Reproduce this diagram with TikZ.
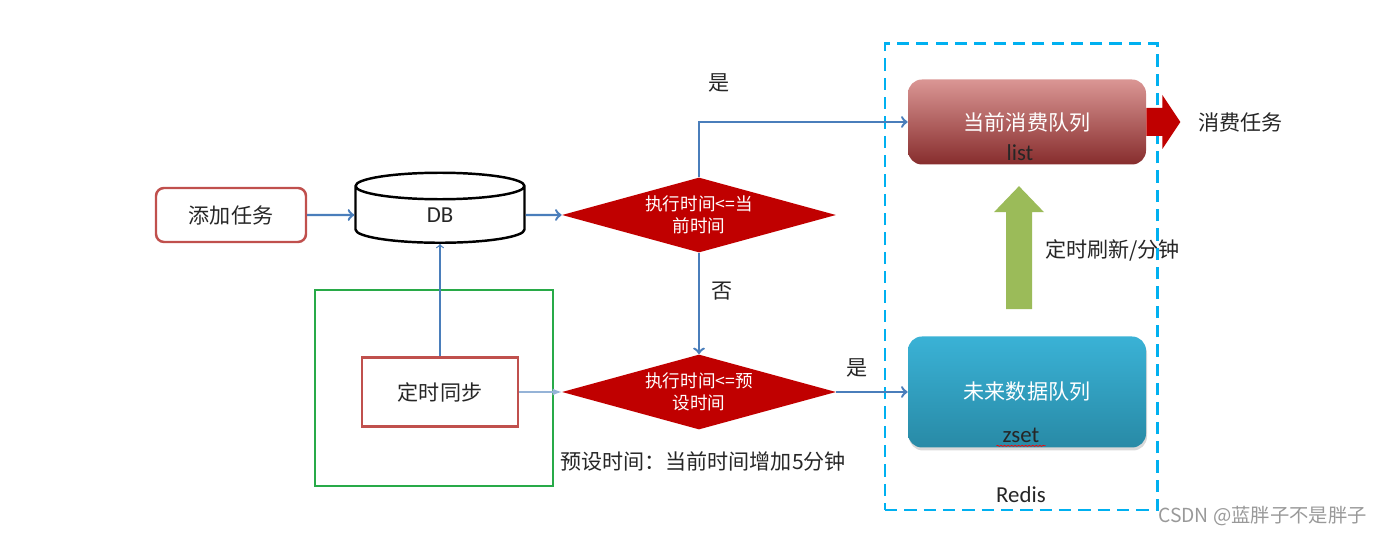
\documentclass[tikz,border=0pt]{standalone}
\usepackage{fontspec}
\setmainfont{Noto Sans CJK SC}
\newfontfamily\latinfont{Carlito}
\usetikzlibrary{shapes.geometric}
\usetikzlibrary{positioning}
\usetikzlibrary{calc}
\usetikzlibrary{shadows}
\usetikzlibrary{decorations.pathmorphing}
\definecolor{taskred}{RGB}{192,80,77}
\definecolor{flowblue}{RGB}{74,126,187}
\definecolor{lightflow}{RGB}{149,179,215}
\definecolor{decisionred}{RGB}{192,0,0}
\definecolor{groupgreen}{RGB}{40,170,72}
\definecolor{redisblue}{RGB}{0,176,240}
\definecolor{listtop}{RGB}{218,150,148}
\definecolor{listmid}{RGB}{192,80,77}
\definecolor{listbottom}{RGB}{135,45,45}
\definecolor{zsettop}{RGB}{58,178,214}
\definecolor{zsetbottom}{RGB}{40,138,166}
\definecolor{refreshgreen}{RGB}{155,187,89}
\definecolor{textgray}{RGB}{38,38,38}
\tikzset{zh/.style={font=\fontsize{12}{14}\selectfont, text=textgray},
  en/.style={font=\latinfont\fontsize{13}{15}\selectfont, text=textgray},
  flow/.style={-to, draw=flowblue, line width=1.4pt},
  decision/.style={diamond, aspect=3.66, inner sep=0pt, minimum width=5.48cm, minimum height=1.5cm, fill=decisionred, text=white, align=center, font=\fontsize{10}{12.5}\selectfont},
  queue/.style={rounded corners=0.28cm, minimum width=4.76cm, text=white, font=\fontsize{12}{14}\selectfont}}

\begin{document}
\begin{tikzpicture}
    \useasboundingbox (0,0) rectangle (27.64,-10.72);

    \node (add) at (4.62,-4.3) [zh, draw=taskred, line width=1.4pt, rounded corners=0.16cm, minimum width=3cm, minimum height=1.08cm] {添加任务};
    \node (db) [right of=add, node distance=4.18cm, cylinder, shape border rotate=90, aspect=1, draw, line width=1.4pt, minimum width=3.38cm, minimum height=1.4cm, inner sep=0pt, en] {DB};
    \node (dec1) [right of=db, node distance=5.18cm, decision] {执行时间<=当\\前时间};
    \node (dec2) [below of=dec1, node distance=3.54cm, decision] {执行时间<=预\\设时间};
    \node (sync) [left of=dec2, node distance=5.18cm, zh, draw=taskred, line width=1.6pt, minimum width=3.12cm, minimum height=1.38cm] {定时同步};
    \node (group) at ($(sync)+(-0.12,0.08)$) [draw=groupgreen, line width=0.9pt, minimum width=4.76cm, minimum height=3.92cm] {};

    \node (list) [right of=dec1, node distance=6.56cm, yshift=1.86cm, queue, minimum height=1.7cm, top color=listtop, middle color=listmid, bottom color=listbottom] {当前消费队列};
    \node (zset) [right of=dec2, node distance=6.56cm, queue, minimum height=2.22cm, top color=zsettop, bottom color=zsetbottom, drop shadow={opacity=0.3, shadow xshift=0.02cm, shadow yshift=-0.06cm}] {未来数据队列};
    \node (redis) at ($(list)!0.5!(zset)+(-0.12,-0.4)$) [draw=redisblue, line width=1.7pt, dash pattern=on 7pt off 4pt, minimum width=5.44cm, minimum height=9.32cm] {};

    \node (listname) at ([xshift=-0.14cm, yshift=0.09cm]list.south) [en, anchor=base] {list};
    \node (zsetname) at ([xshift=-0.12cm, yshift=0.1cm]zset.south) [en, anchor=base] {zset};
    \draw[red, decorate, decoration={snake, amplitude=0.3pt, segment length=2pt}, line width=0.4pt] ([yshift=-0.06cm]zsetname.base west) -- ([yshift=-0.06cm]zsetname.base east);
    \node (redisname) at ([yshift=0.34cm]redis.south) [en] {Redis};

    \node (yes1) at ([xshift=0.4cm, yshift=1.88cm]dec1.north) [zh] {是};
    \node (no) at ([xshift=0.46cm, yshift=-0.76cm]dec1.south) [zh] {否};
    \node (yes2) at ([xshift=0.42cm, yshift=0.48cm]dec2.east) [zh] {是};
    \node (preset) at ([xshift=0.08cm, yshift=-0.64cm]dec2.south) [zh] {预设时间：当前时间增加5分钟};
    \node (consume) at ([xshift=1.88cm]list.east) [zh] {消费任务};
    \node (refresh) at ([xshift=0.24cm, yshift=1.72cm]zset.north) [zh, anchor=west] {定时刷新/分钟};

    \draw[flow] (add) -- (db);
    \draw[flow] (db) -- (dec1);
    \draw[flow] (dec1.north) |- (list.west);
    \draw[flow] (dec1) -- (dec2);
    \draw[flow] (dec2) -- (zset);
    \draw[-to, flowblue, line width=0.7pt] (sync) -- (db);
    \draw[-latex, lightflow, line width=0.8pt] (sync) -- (dec2);

    % block arrows
    \fill[decisionred] ([yshift=0.28cm]list.east) -- ++(0.32,0) -- ++(0,0.26) -- ++(0.36,-0.54) -- ++(-0.36,-0.54) -- ++(0,0.26) -- ++(-0.32,0) -- cycle;
    \fill[refreshgreen] ([xshift=-0.42cm, yshift=0.54cm]zset.north) -- ++(0.52,0) -- ++(0,1.94) -- ++(0.24,0) -- ++(-0.5,0.52) -- ++(-0.5,-0.52) -- ++(0.24,0) -- cycle;

    \node (mark) at (27.46,-10.32) [anchor=east, font=\fontsize{11}{13}\selectfont, text=black!40] {CSDN @蓝胖子不是胖子};
\end{tikzpicture}
\end{document}
